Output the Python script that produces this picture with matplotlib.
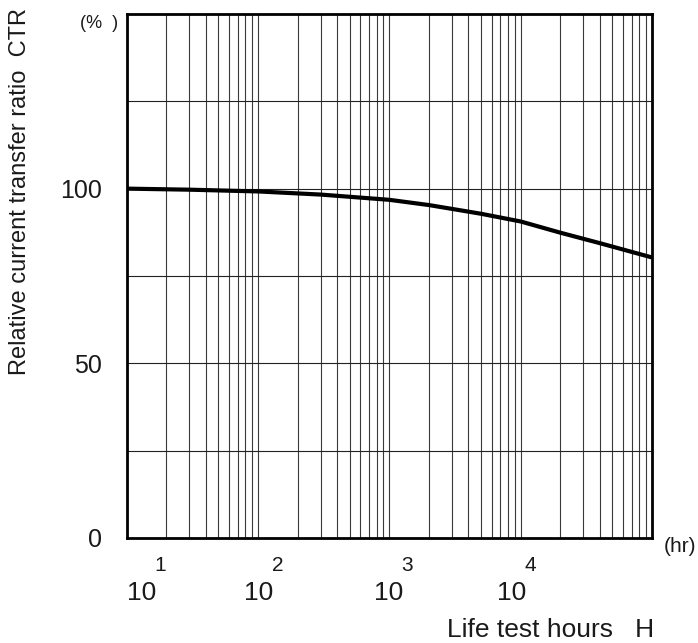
import matplotlib
matplotlib.use('Agg')
import matplotlib.pyplot as plt
import matplotlib.transforms as mtransforms
import numpy as np

# life test curve
hours = [10, 30, 100, 300, 1000, 2000, 3000, 5000, 10000, 20000, 40000, 100000]
ctr = [100, 99.7, 99.2, 98.3, 96.8, 95.3, 94.2, 92.8, 90.6, 87.4, 84.4, 80.3]

y_ticks = [0, 50, 100]
x_decades = [10, 100, 1000, 10000]
x_exponents = ['1', '2', '3', '4']

plt.rcParams['font.family'] = ['Liberation Sans', 'DejaVu Sans']
txt = '#1a1a1a'

fig = plt.figure(figsize=(6.98, 6.43), dpi=100)
ax = fig.add_axes([0.1815, 0.1633, 0.7526, 0.815])

ax.set_xscale('log')
ax.set_xlim(10, 1e5)
ax.set_ylim(0, 150)

# grid: every 1..9 per decade, every 25 %
for dec in [10, 100, 1000, 10000]:
    for m in range(1, 10):
        xv = dec * m
        if xv <= 10:
            continue
        ax.axvline(xv, color='#3a3a3a', lw=0.8, zorder=1)
for yv in [25, 50, 75, 100, 125]:
    ax.axhline(yv, color='#222222', lw=0.8, zorder=1)

ax.plot(hours, ctr, color='black', lw=3.0, solid_capstyle='butt', zorder=3)

for s in ax.spines.values():
    s.set_linewidth(2.0)
    s.set_color('black')

ax.set_xticks([])
ax.set_xticks([], minor=True)
ax.set_yticks(y_ticks)
ax.set_yticklabels([str(v) for v in y_ticks], fontsize=18, color=txt)
ax.tick_params(axis='y', length=0, pad=18)

# x labels "10" with exponent, placed under decades (small shifts as in the original)
shifts = [15, 1, -1, -9]
for xv, ex, dx in zip(x_decades, x_exponents, shifts):
    tr = mtransforms.blended_transform_factory(ax.transData, fig.transFigure)
    off = mtransforms.offset_copy(tr, fig=fig, x=dx, y=0, units='dots')
    ax.text(xv, 1 - 600 / 643, '10', transform=off, ha='center', va='baseline',
            fontsize=19, color=txt)
    off2 = mtransforms.offset_copy(tr, fig=fig, x=dx + 19, y=0, units='dots')
    ax.text(xv, 1 - 571 / 643, ex, transform=off2, ha='center', va='baseline',
            fontsize=15, color=txt)

fig.text(680 / 698, 1 - 546 / 643, '(hr)', ha='center', va='center', fontsize=15, color=txt)
fig.text(654 / 698, 0.002, 'Life test hours   H', ha='right', va='bottom',
         fontsize=19, color=txt)
fig.text(99 / 698, 1 - 24 / 643, '(%  )', ha='center', va='center', fontsize=13, color=txt)
fig.text(20 / 698, 1 - 191 / 643, 'Relative current transfer ratio  CTR', rotation=90,
         ha='center', va='center', fontsize=17, color=txt)

fig.savefig('out.png', dpi=100, facecolor='white')
